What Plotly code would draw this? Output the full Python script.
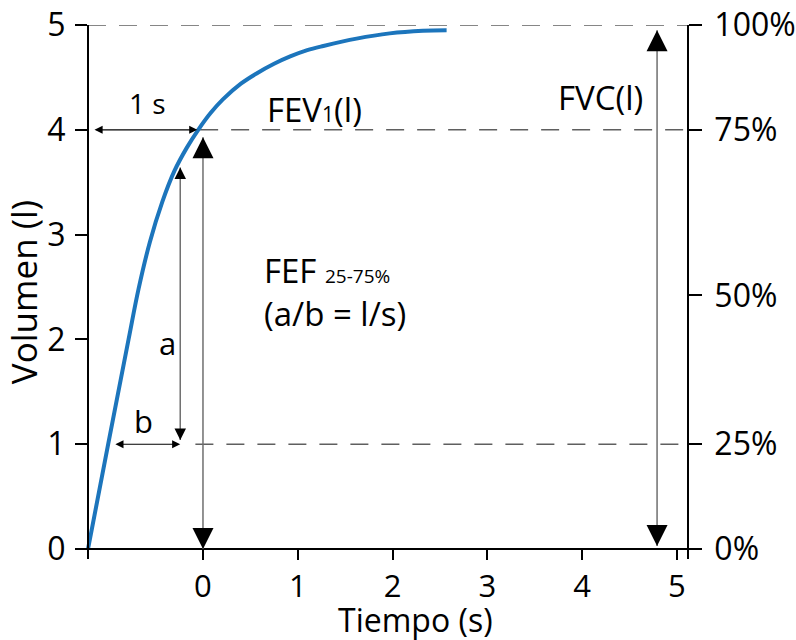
import plotly.graph_objects as go

# ---------------- data ----------------
time_s = [-1.213, -1.0, -0.785, -0.68, -0.56, -0.43, -0.30, -0.17, -0.05, 0.08, 0.21, 0.40,
          0.57, 0.75, 0.92, 1.10, 1.27, 1.62, 1.97, 2.32, 2.57]
volume_l = [0.0, 1.0, 2.0, 2.48, 2.93, 3.31, 3.61, 3.83, 4.0, 4.16, 4.29, 4.44,
            4.54, 4.63, 4.70, 4.76, 4.80, 4.87, 4.92, 4.945, 4.95]

x_ticks = [0, 1, 2, 3, 4, 5]
y_ticks = [0, 1, 2, 3, 4, 5]
pct_vals = [0, 1, 2.42, 4, 5]
pct_text = ["0%", "25%", "50%", "75%", "100%"]

x_range = [-1.35, 5.264]
y_range = [-0.095, 5.0]
x_left_axis = -1.213
x_right_axis = 5.116

# dashed reference levels (volume) and where they start (time)
ref_levels = [5.0, 4.0, 1.0]
ref_from = [-1.213, -0.03, -0.08]

# vertical arrows: x, lower tip, upper tip, head scale
v_arrow_x = [0.0, 4.79, -0.24]
v_arrow_lo = [0.0, 0.03, 1.04]
v_arrow_hi = [3.93, 4.95, 3.64]
v_arrow_head = [4.2, 4.2, 2.3]

# horizontal arrows: y, x from, x to
h_arrow_y = [4.0, 1.0]
h_arrow_x0 = [-1.16, -0.94]
h_arrow_x1 = [-0.06, -0.24]

# labels
label_text = ["1 s", "a", "b", "FEV<span style='font-size:21px'>1</span>(l)", "FVC(l)"]
label_x = [-0.59, -0.37, -0.63, 1.18, 4.19]
label_y = [4.26, 1.97, 1.22, 4.19, 4.31]
label_size = [28, 31, 31, 33, 33]

FONT = "Open Sans"
BLUE = "#1c75bc"
GRAY = "#6f6f6f"

fig = go.Figure()
fig.add_trace(go.Scatter(
    x=time_s, y=volume_l, mode="lines",
    line=dict(color=BLUE, width=4, shape="spline", smoothing=1.0),
    showlegend=False, hoverinfo="skip",
))
# invisible trace for right axis
fig.add_trace(go.Scatter(x=[x_ticks[0]], y=[0], yaxis="y2", mode="markers",
                         marker=dict(opacity=0), showlegend=False, hoverinfo="skip"))

def frac(v, r):
    return (v - r[0]) / (r[1] - r[0])

# dashed reference lines
for lv, x0 in zip(ref_levels, ref_from):
    fig.add_shape(type="line", xref="x", yref="y", x0=x0, x1=x_right_axis, y0=lv, y1=lv,
                  line=dict(color="#5f5f5f", width=1.5, dash="18px,13px"), layer="below")

annotations = []
# vertical arrows: gray shaft + black heads
for xv, lo, hi, hs in zip(v_arrow_x, v_arrow_lo, v_arrow_hi, v_arrow_head):
    fig.add_shape(type="line", xref="x", yref="y", x0=xv, x1=xv, y0=lo, y1=hi,
                  line=dict(color=GRAY, width=1.5))
    L = 5 * hs
    for tip, off in ((hi, L), (lo, -L)):
        annotations.append(dict(x=xv, y=tip, xref="x", yref="y", ax=0, ay=off, text="",
                                showarrow=True, arrowhead=2, arrowwidth=1.5,
                                arrowsize=hs / 1.5, arrowcolor="black", standoff=0))
# horizontal arrows
for yv, x0, x1 in zip(h_arrow_y, h_arrow_x0, h_arrow_x1):
    annotations.append(dict(x=x1, y=yv, xref="x", yref="y", ax=x0, ay=yv, axref="x", ayref="y",
                            text="", showarrow=True, arrowside="end+start",
                            arrowhead=2, startarrowhead=2, arrowwidth=1.2,
                            arrowsize=1.35, startarrowsize=1.35, arrowcolor="black",
                            standoff=0, startstandoff=0))
# text labels
for t, xv, yv, s in zip(label_text, label_x, label_y, label_size):
    annotations.append(dict(x=xv, y=yv, xref="x", yref="y", text=t, showarrow=False,
                            font=dict(family=FONT, size=s, color="black")))
annotations.append(dict(x=0.62, y=2.45, xref="x", yref="y", xanchor="left", align="left",
                        text="FEF <span style='font-size:19px'>25-75%</span><br>(a/b = l/s)",
                        showarrow=False, font=dict(family=FONT, size=33, color="black")))
# x axis title
annotations.append(dict(x=frac(2.24, x_range), y=-0.114, xref="paper", yref="paper",
                        xanchor="center", yanchor="middle", borderpad=0,
                        text="Tiempo (s)", showarrow=False,
                        font=dict(family=FONT, size=32, color="black")))

axis_common = dict(showgrid=False, zeroline=False, showline=True, linecolor="black",
                   linewidth=2, ticks="outside", tickwidth=2, tickcolor="black",
                   automargin=False)

fig.update_layout(
    width=796, height=640,
    margin=dict(l=75, r=94, t=25, b=81),
    paper_bgcolor="white", plot_bgcolor="white",
    showlegend=False,
    xaxis=dict(range=x_range, tickvals=x_ticks, ticklen=10, anchor="free",
               position=frac(0, y_range),
               tickfont=dict(family=FONT, size=31, color="black"), **axis_common),
    yaxis=dict(range=y_range, tickvals=y_ticks, ticklen=12, anchor="free",
               position=frac(x_left_axis, x_range), side="left", ticklabelstandoff=3,
               tickfont=dict(family=FONT, size=32, color="black"),
               title=dict(text="Volumen (l)", font=dict(family=FONT, size=35, color="black"),
                          standoff=6),
               **axis_common),
    yaxis2=dict(range=y_range, tickvals=pct_vals, ticktext=pct_text, ticklen=13,
                overlaying="y", side="right", anchor="free", ticklabelstandoff=6,
                position=frac(x_right_axis, x_range),
                tickfont=dict(family=FONT, size=32, color="black"), **axis_common),
    annotations=annotations,
)

fig.write_html("out.html", config={"displayModeBar": False},
               post_script="document.body.style.margin='0px';")
